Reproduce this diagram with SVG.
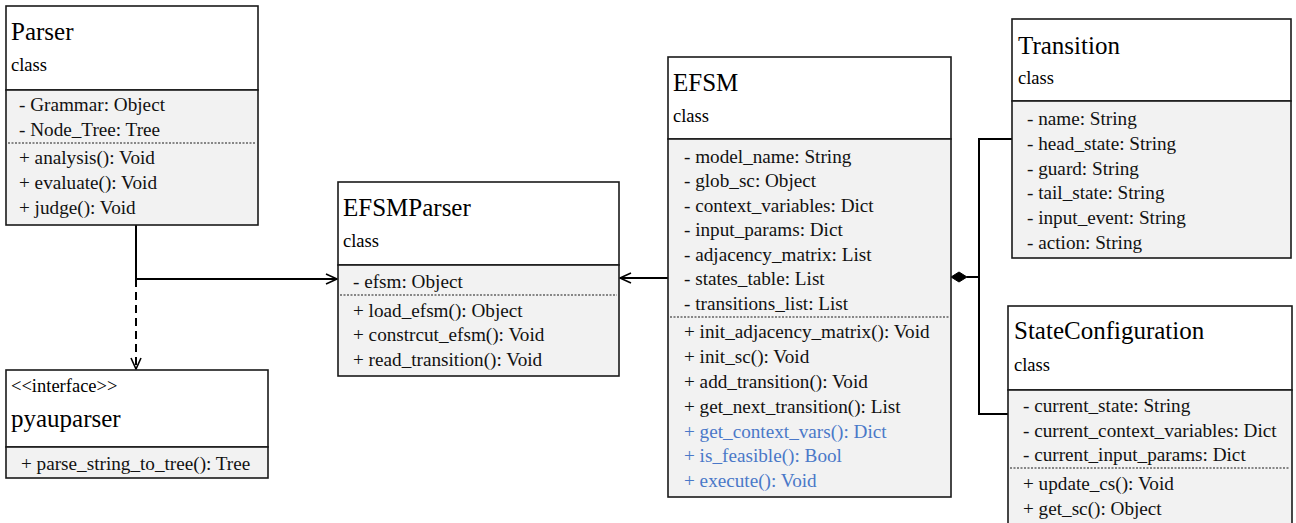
<svg xmlns="http://www.w3.org/2000/svg" width="1296" height="523" viewBox="0 0 1296 523">
<style>
.hd{fill:#ffffff;stroke:#1a1a1a;stroke-width:1.6}
.bd{fill:#f2f2f2;stroke:#1a1a1a;stroke-width:1.6}
.dot{stroke:#1a1a1a;stroke-width:1;stroke-dasharray:2 1.5;fill:none}
text{font-family:'Liberation Serif','Times New Roman',serif}
.t{font-size:25px;fill:#000}
.c{font-size:18.5px;fill:#000}
.m{font-size:19.2px;fill:#111}
.b{fill:#4a78c8}
.ln{fill:none;stroke:#000;stroke-width:2}
.dash{stroke-dasharray:8 5}
</style>
<defs>
<marker id="open" markerWidth="14" markerHeight="14" refX="12" refY="6" orient="auto" markerUnits="userSpaceOnUse">
<path d="M1,1 L12,6 L1,11" fill="none" stroke="#000" stroke-width="1.6"/>
</marker>
</defs>
<g id="connectors">
<path class="ln" d="M136,225 V279 H337" marker-end="url(#open)"/>
<path class="ln dash" d="M136,279 V369" marker-end="url(#open)"/>
<path class="ln" d="M668,278 H620" marker-end="url(#open)"/>
<path d="M951,277 L959,272 L967,277 L959,282 Z" fill="#000" stroke="#000" stroke-width="1"/>
<path class="ln" d="M967,277 H979 M1012,139 H979 V414 H1008"/>
</g>
<g id="Parser">
<rect class="hd" x="6" y="6" width="252" height="84"/>
<rect class="bd" x="6" y="90" width="252" height="135"/>
<line class="dot" x1="8" y1="143" x2="256" y2="143"/>
<text class="t" x="11" y="40">Parser</text>
<text class="c" x="11" y="71">class</text>
<text class="m" x="19" y="111">- Grammar: Object</text>
<text class="m" x="19" y="136">- Node_Tree: Tree</text>
<text class="m" x="19" y="164">+ analysis(): Void</text>
<text class="m" x="19" y="189">+ evaluate(): Void</text>
<text class="m" x="19" y="214">+ judge(): Void</text>
</g>
<g id="pyauparser">
<rect class="hd" x="6" y="370" width="262" height="77"/>
<rect class="bd" x="6" y="447" width="262" height="31"/>
<text class="c" x="11" y="392">&lt;&lt;interface&gt;&gt;</text>
<text class="t" x="11" y="427">pyauparser</text>
<text class="m" x="21" y="470">+ parse_string_to_tree(): Tree</text>
</g>
<g id="EFSMParser">
<rect class="hd" x="338" y="182" width="281" height="83"/>
<rect class="bd" x="338" y="265" width="281" height="111"/>
<line class="dot" x1="340" y1="295" x2="617" y2="295"/>
<text class="t" x="343" y="216">EFSMParser</text>
<text class="c" x="343" y="247">class</text>
<text class="m" x="353" y="288">- efsm: Object</text>
<text class="m" x="353" y="317">+ load_efsm(): Object</text>
<text class="m" x="353" y="341">+ constrcut_efsm(): Void</text>
<text class="m" x="353" y="366">+ read_transition(): Void</text>
</g>
<g id="EFSM">
<rect class="hd" x="668" y="57" width="283" height="82"/>
<rect class="bd" x="668" y="139" width="283" height="358"/>
<line class="dot" x1="670" y1="317" x2="949" y2="317"/>
<text class="t" x="673" y="91">EFSM</text>
<text class="c" x="673" y="122">class</text>
<text class="m" x="684" y="163">- model_name: String</text>
<text class="m" x="684" y="187">- glob_sc: Object</text>
<text class="m" x="684" y="212">- context_variables: Dict</text>
<text class="m" x="684" y="236">- input_params: Dict</text>
<text class="m" x="684" y="261">- adjacency_matrix: List</text>
<text class="m" x="684" y="285">- states_table: List</text>
<text class="m" x="684" y="310">- transitions_list: List</text>
<text class="m" x="684" y="338">+ init_adjacency_matrix(): Void</text>
<text class="m" x="684" y="363">+ init_sc(): Void</text>
<text class="m" x="684" y="388">+ add_transition(): Void</text>
<text class="m" x="684" y="413">+ get_next_transition(): List</text>
<text class="m b" x="684" y="438">+ get_context_vars(): Dict</text>
<text class="m b" x="684" y="462">+ is_feasible(): Bool</text>
<text class="m b" x="684" y="487">+ execute(): Void</text>
</g>
<g id="Transition">
<rect class="hd" x="1012" y="19" width="279" height="82"/>
<rect class="bd" x="1012" y="101" width="279" height="157"/>
<text class="t" x="1018" y="54">Transition</text>
<text class="c" x="1018" y="84">class</text>
<text class="m" x="1027" y="125">- name: String</text>
<text class="m" x="1027" y="150">- head_state: String</text>
<text class="m" x="1027" y="175">- guard: String</text>
<text class="m" x="1027" y="199">- tail_state: String</text>
<text class="m" x="1027" y="224">- input_event: String</text>
<text class="m" x="1027" y="249">- action: String</text>
</g>
<g id="StateConfiguration">
<rect class="hd" x="1008" y="306" width="284" height="84"/>
<rect class="bd" x="1008" y="390" width="284" height="150"/>
<line class="dot" x1="1010" y1="468" x2="1290" y2="468"/>
<text class="t" x="1014" y="339">StateConfiguration</text>
<text class="c" x="1014" y="371">class</text>
<text class="m" x="1023" y="412">- current_state: String</text>
<text class="m" x="1023" y="437">- current_context_variables: Dict</text>
<text class="m" x="1023" y="461">- current_input_params: Dict</text>
<text class="m" x="1023" y="490">+ update_cs(): Void</text>
<text class="m" x="1023" y="515">+ get_sc(): Object</text>
</g>
</svg>
